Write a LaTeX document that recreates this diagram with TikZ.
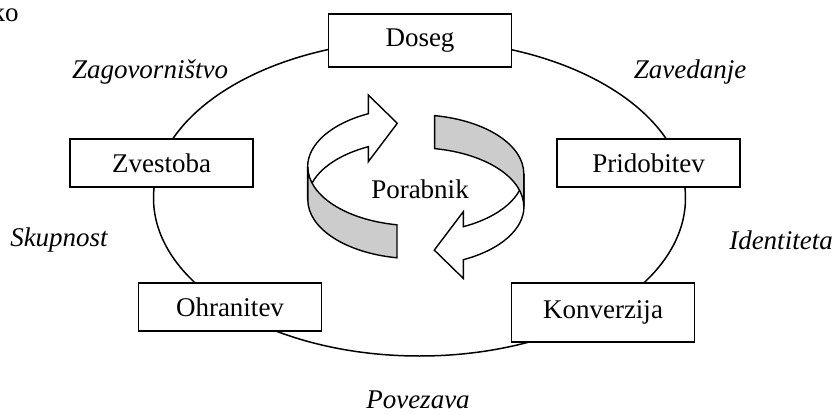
\documentclass[tikz,border=0pt]{standalone}
\usepackage{fontspec}
\setmainfont{Liberation Serif}
\usetikzlibrary{positioning}

\newcommand{\stagefont}{\fontsize{13.5}{16}\selectfont}

\tikzset{
  stage/.style={draw, fill=white, line width=0.9pt, minimum width=91.5pt,
    minimum height=24pt, inner sep=0pt},
  phase/.style={font=\stagefont\itshape},
  band/.style={draw, line width=0.7pt, line join=miter}
}

\begin{document}
\begin{tikzpicture}[x=0.5pt, y=0.5pt, font=\stagefont]
        \useasboundingbox (0,0) rectangle (832,414);

        % outer cycle
        \draw[line width=0.75pt] (419.5,216) ellipse[x radius=266, y radius=158];

        \node[stage, minimum height=26.5pt] (Doseg) at (420,373.5) {Doseg};
        \node[stage] (Zvestoba) at (161.5,251) {Zvestoba};
        \node[stage] (Pridobitev) at (648.5,251) {Pridobitev};
        \node[stage] (Ohranitev) at (230,107) {Ohranitev};
        \node[stage, minimum height=29.5pt] (Konverzija) at (603,101.5) {Konverzija};

        \node[phase] (Zagovor) at (150,342) {Zagovorništvo};
        \node[phase] (Zavedanje) at (690,342) {Zavedanje};
        \node[phase] (Skupnost) at (59,174) {Skupnost};
        \node[phase] (Identiteta) at (781,174) {Identiteta};
        \node[phase] (Povezava) at (418,14) {Povezava};

        \node (Porabnik) at (420,225) {Porabnik};
        \node[anchor=base east, inner sep=0pt] (ko) at (19,393) {ko};

        % two ribbon arrows round the centre
        \foreach \r in {0,180} {
          \begin{scope}[shift={(415.8,227.3)}, rotate=\r]
            \path[band, fill=white] (-47.5,91.7) -- (-18.5,63.4) -- (-47.5,25) -- (-47.5,40)
              arc[start angle=116, end angle=180, x radius=108, y radius=59] -- ++(0,33)
              arc[start angle=180, end angle=116, x radius=108, y radius=59] -- cycle;
            \path[band, fill=black!20] (-108,20)
              arc[start angle=180, end angle=260, x radius=108, y radius=59] -- ++(0,-33)
              arc[start angle=260, end angle=180, x radius=108, y radius=59] -- cycle;
          \end{scope}
        }
    \end{tikzpicture}
\end{document}
